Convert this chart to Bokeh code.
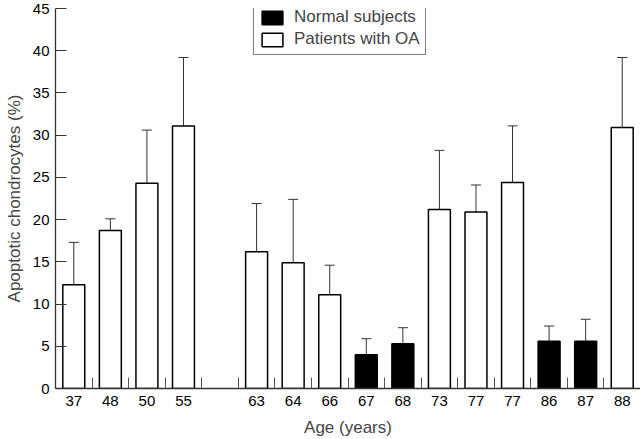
from bokeh.plotting import figure
from bokeh.models import FixedTicker, ColumnDataSource, Whisker, TeeHead, Legend, LegendItem, Range1d
from bokeh.embed import file_html
from bokeh.resources import INLINE

# Data (an empty entry marks the blank slot between 55 and 63 years)
ages = ["37", "48", "50", "55", "", "63", "64", "66", "67", "68", "73", "77", "77", "86", "87", "88"]
groups = ["OA", "OA", "OA", "OA", "", "OA", "OA", "OA", "N", "N", "OA", "OA", "OA", "N", "N", "OA"]
apoptotic = [12.3, 18.7, 24.3, 31.1, None, 16.2, 14.9, 11.1, 4.0, 5.3, 21.2, 20.9, 24.4, 5.6, 5.6, 30.9]
sd = [5.0, 1.4, 6.3, 8.1, None, 5.7, 7.5, 3.5, 1.9, 1.9, 7.0, 3.2, 6.7, 1.8, 2.6, 8.3]
y_ticks = [0, 5, 10, 15, 20, 25, 30, 35, 40, 45]

FONT = "Liberation Sans"
AX = "#333333"

slots = list(range(1, len(ages) + 1))

def subset(g):
    xs, tops, ups = [], [], []
    for s, grp, v, e in zip(slots, groups, apoptotic, sd):
        if grp == g:
            xs.append(s); tops.append(v); ups.append(v + e)
    return ColumnDataSource(dict(x=xs, top=tops, upper=ups))

src_n = subset("N")
src_oa = subset("OA")

p = figure(width=640, height=439, output_backend="svg", toolbar_location=None,
           x_range=Range1d(0.5, len(ages) + 0.5), y_range=Range1d(0, 45),
           min_border_left=55, min_border_right=0, min_border_top=8, min_border_bottom=51)
p.outline_line_color = None
p.xgrid.visible = False
p.ygrid.visible = False
p.background_fill_color = "white"
p.border_fill_color = "white"

bar_w = 0.6
r_n = p.vbar(x="x", top="top", width=bar_w, source=src_n, fill_color="black", line_color="black", line_width=1.5)
r_oa = p.vbar(x="x", top="top", width=bar_w, source=src_oa, fill_color="white", line_color="black", line_width=1.5)

for src in (src_n, src_oa):
    w = Whisker(base="x", upper="upper", lower="top", source=src, dimension="height",
                line_color=AX, line_width=1,
                upper_head=TeeHead(size=10, line_color=AX, line_width=1), lower_head=None)
    p.add_layout(w)

# x axis
tick_pos = [s for s, a in zip(slots, ages) if a]
p.xaxis.ticker = FixedTicker(ticks=tick_pos, minor_ticks=[s + 0.5 for s in slots[:-1]])
p.xaxis.major_label_overrides = {s: a for s, a in zip(slots, ages) if a}
p.xaxis.major_tick_in = 0
p.xaxis.major_tick_out = 0
p.xaxis.minor_tick_in = 11
p.xaxis.minor_tick_out = 0
p.xaxis.minor_tick_line_color = "#555555"
p.xaxis.axis_line_color = AX
p.xaxis.axis_line_width = 1.3
p.xaxis.major_label_text_font = FONT
p.xaxis.major_label_text_font_size = "15px"
p.xaxis.major_label_text_color = "black"
p.xaxis.major_label_standoff = 7
p.xaxis.axis_label = "Age (years)"
p.xaxis.axis_label_text_font = FONT
p.xaxis.axis_label_text_font_size = "17px"
p.xaxis.axis_label_text_font_style = "normal"
p.xaxis.axis_label_standoff = 9

# y axis
p.yaxis.ticker = FixedTicker(ticks=y_ticks)
p.yaxis.major_tick_in = 11
p.yaxis.major_tick_out = 0
p.yaxis.minor_tick_line_color = None
p.yaxis.major_tick_line_color = AX
p.yaxis.axis_line_color = AX
p.yaxis.axis_line_width = 1.3
p.yaxis.major_label_text_font = FONT
p.yaxis.major_label_text_font_size = "15px"
p.yaxis.major_label_text_color = "black"
p.yaxis.major_label_standoff = 6
p.yaxis.axis_label = "Apoptotic chondrocytes (%)"
p.yaxis.axis_label_text_font = FONT
p.yaxis.axis_label_text_font_size = "17px"
p.yaxis.axis_label_text_font_style = "normal"
p.yaxis.axis_label_standoff = 6

legend = Legend(items=[LegendItem(label="Normal subjects", renderers=[r_n]),
                       LegendItem(label="Patients with OA", renderers=[r_oa])],
                location=(198, 333))
legend.border_line_color = "black"
legend.border_line_width = 1
legend.background_fill_color = "white"
legend.background_fill_alpha = 1
legend.label_text_font = FONT
legend.label_text_font_size = "17px"
legend.glyph_width = 26
legend.glyph_height = 17
legend.label_height = 17
legend.label_standoff = 9
legend.spacing = 2
legend.padding = 5
legend.margin = 0
p.add_layout(legend)

open("out.html", "w").write(file_html(p, INLINE))
